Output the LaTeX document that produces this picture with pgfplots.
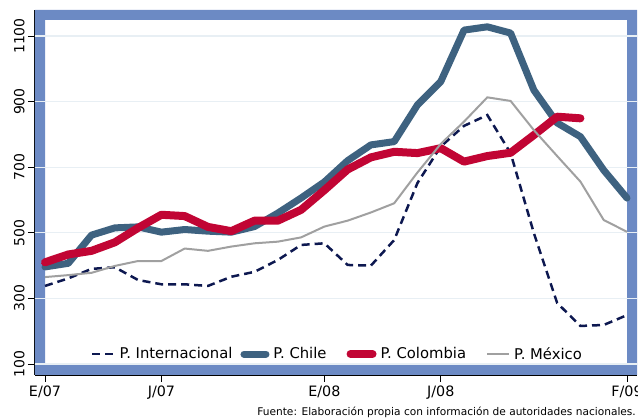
\documentclass[border=0pt]{standalone}
\usepackage{fontspec}
\setmainfont{DejaVu Sans}
\usepackage{pgfplots}
\pgfplotsset{compat=1.18}
\definecolor{frameblue}{RGB}{108,138,196}
\definecolor{chile}{RGB}{62,98,128}
\definecolor{colombia}{RGB}{193,5,52}
\definecolor{mexico}{RGB}{160,160,160}
\definecolor{intl}{RGB}{13,24,80}
\definecolor{gridc}{RGB}{232,239,244}
\begin{document}
\begin{tikzpicture}
\path[use as bounding box] (-35pt,-44pt) rectangle (603pt,375pt);
\begin{axis}[
  at={(0,0)}, anchor=south west,
  scale only axis, width=602pt, height=365pt,
  xmin=-0.4296, xmax=25.4296, ymin=66.5, ymax=1179.3,
  axis x line*=bottom, axis y line*=left,
  axis line style={black, line width=1.2pt},
  xtick={0,5,12,17,25}, xticklabels={E/07,J/07,E/08,J/08,F/09},
  ytick={100,300,...,1100},
  tick align=outside, major tick length=7pt,
  tick style={black, line width=1pt},
  yticklabel style={rotate=90, anchor=south, font=\fontsize{14}{16}\selectfont},
  xticklabel style={font=\fontsize{14.3}{16}\selectfont},
  /pgf/number format/assume math mode=true, /pgf/number format/1000 sep={},
  legend style={at={(0.5025,0.0575)}, anchor=center, draw=none, fill=none,
    font=\fontsize{14.8}{16}\selectfont, legend columns=4,
    /tikz/column 1/.style={column sep=2pt},
    /tikz/column 2/.style={column sep=6pt},
    /tikz/column 3/.style={column sep=2pt},
    /tikz/column 4/.style={column sep=18pt},
    /tikz/column 5/.style={column sep=2pt},
    /tikz/column 6/.style={column sep=18pt},
    /tikz/column 7/.style={column sep=2pt}},
  legend image code/.code={\draw[#1] (0pt,0pt) -- (22pt,0pt);},
]
\fill[frameblue, even odd rule] (rel axis cs:0,0) rectangle (rel axis cs:1,1)
  (axis cs:0,100) rectangle (axis cs:25,1149);
\draw[gridc, line width=1.2pt] (axis cs:-0.4296,100) -- (axis cs:25.4296,100);
\draw[gridc, line width=1.2pt] (axis cs:-0.4296,300) -- (axis cs:25.4296,300);
\draw[gridc, line width=1.2pt] (axis cs:-0.4296,500) -- (axis cs:25.4296,500);
\draw[gridc, line width=1.2pt] (axis cs:-0.4296,700) -- (axis cs:25.4296,700);
\draw[gridc, line width=1.2pt] (axis cs:-0.4296,900) -- (axis cs:25.4296,900);
\draw[gridc, line width=1.2pt] (axis cs:-0.4296,1100) -- (axis cs:25.4296,1100);
\addplot[intl, line width=2.5pt, dash pattern=on 8pt off 5pt] coordinates {
(0,338) (1,361) (2,390) (3,395) (4,356) (5,343) (6,343) (7,338) (8,366) (9,381)
(10,417) (11,463) (12,468) (13,402) (14,400) (15,478) (16,652) (17,763) (18,826)
(19,859) (20,743) (21,499) (22,286) (23,216) (24,219) (25,249)};
\addlegendentry{P. Internacional}
\addplot[chile, line width=7pt, line cap=round, line join=round] coordinates {
(0,396) (1,407) (2,493) (3,515) (4,518) (5,502) (6,510) (7,505) (8,502) (9,519)
(10,560) (11,606) (12,655) (13,720) (14,768) (15,778) (16,890) (17,961) (18,1118)
(19,1128) (20,1109) (21,935) (22,835) (23,793) (24,691) (25,606)};
\addlegendentry{P. Chile}
\addplot[colombia, line width=8pt, line cap=round, line join=round] coordinates {
(0,410) (1,434) (2,445) (3,471) (4,515) (5,555) (6,551) (7,518) (8,505) (9,537)
(10,537) (11,570) (12,630) (13,693) (14,730) (15,747) (16,743) (17,758) (18,717)
(19,734) (20,744) (21,798) (22,854) (23,849)};
\addlegendentry{P. Colombia}
\addplot[mexico, line width=2pt] coordinates {
(0,365) (1,371) (2,378) (3,399) (4,414) (5,414) (6,452) (7,445) (8,458) (9,468)
(10,473) (11,486) (12,519) (13,537) (14,562) (15,590) (16,684) (17,771) (18,839)
(19,913) (20,902) (21,813) (22,734) (23,656) (24,539) (25,503)};
\addlegendentry{P. México}
\end{axis}
\node[anchor=base east, font=\fontsize{10.6}{12}\selectfont, inner sep=0pt] at (601pt,-41pt)
  {Fuente: Elaboración propia con información de autoridades nacionales.};
\end{tikzpicture}
\end{document}
